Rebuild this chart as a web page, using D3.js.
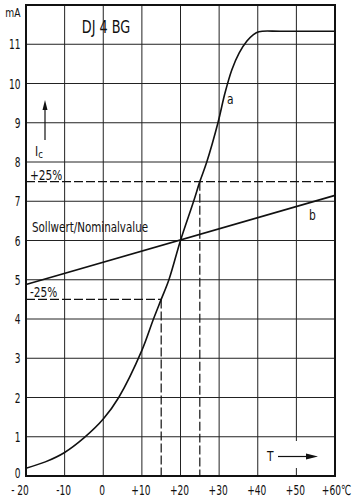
<!DOCTYPE html>
<html>
<head>
<meta charset="utf-8">
<script src="https://cdn.jsdelivr.net/npm/d3@7"></script>
<style>
  html, body { margin: 0; padding: 0; background: #fff; }
  svg text { font-family: 'DejaVu Sans Condensed', 'DejaVu Sans', sans-serif; fill: #111; }
</style>
</head>
<body>
<svg width="354" height="501"></svg>
<script>
// temperature in °C, current in mA
const curveA = [
  [-20, 0.2], [-15, 0.36], [-10, 0.6], [-5, 0.97], [0, 1.45], [4, 2.0],
  [10, 3.2], [13, 4.0], [15, 4.5], [17, 5.0], [20, 6.0], [23.4, 7.0],
  [25, 7.5], [26.8, 8.0], [29.7, 9.0], [31.5, 9.75], [33.3, 10.35], [35.2, 10.78],
  [37.2, 11.08], [38.8, 11.24], [40.3, 11.32], [46, 11.33], [60, 11.33]
]
const lineB = [[-20, 4.88], [60, 7.15]]
const upper = 7.5 // +25%
const lower = 4.5 // -25%
const xTicks = [-20, -10, 0, 10, 20, 30, 40, 50, 60]
const xLabels = ['- 20', '-10', '0', '+10', '+20', '+30', '+40', '+50', '+60℃']
const yTicks = [0, 1, 2, 3, 4, 5, 6, 7, 8, 9, 10, 11]

const svg = d3.select('svg')
const x = d3.scaleLinear().domain([-20, 60]).range([26, 335])
const y = d3.scaleLinear().domain([0, 12]).range([476, 5])

// narrow lettering like the stencil font of the original
const label = (px, py, s, size, anchor, sx) => svg.append('text')
  .attr('transform', `translate(${px},${py}) scale(${sx},1)`)
  .attr('text-anchor', anchor || 'start')
  .attr('font-size', size)
  .text(s)

const grid = svg.append('g').attr('stroke', '#222').attr('stroke-width', 1)
grid.selectAll('.v')
  .data(xTicks.slice(1, -1))
  .enter().append('line')
  .attr('x1', (d) => x(d)).attr('x2', (d) => x(d))
  .attr('y1', y(0)).attr('y2', y(12))
grid.selectAll('.h')
  .data(yTicks.slice(1))
  .enter().append('line')
  .attr('x1', x(-20)).attr('x2', x(60))
  .attr('y1', (d) => y(d)).attr('y2', (d) => y(d))

// gap in the +50 line where the T arrow sits
svg.append('rect')
  .attr('x', x(50) - 3).attr('y', 441)
  .attr('width', 6).attr('height', 27)
  .attr('fill', '#fff')

svg.append('rect')
  .attr('x', x(-20)).attr('y', y(12))
  .attr('width', x(60) - x(-20)).attr('height', y(0) - y(12))
  .attr('fill', 'none').attr('stroke', '#111').attr('stroke-width', 2)

// tolerance lines
const dash = svg.append('g')
  .attr('stroke', '#111').attr('stroke-width', 1.2)
  .attr('stroke-dasharray', '9,3').attr('fill', 'none')
const xAt = (v) => curveA.find((p) => p[1] === v)[0]
dash.append('line')
  .attr('x1', x(-20)).attr('x2', x(60)).attr('y1', y(upper)).attr('y2', y(upper))
dash.append('line')
  .attr('x1', x(xAt(upper))).attr('x2', x(xAt(upper))).attr('y1', y(upper)).attr('y2', y(0))
dash.append('line')
  .attr('x1', x(-20)).attr('x2', x(xAt(lower))).attr('y1', y(lower)).attr('y2', y(lower))
dash.append('line')
  .attr('x1', x(xAt(lower))).attr('x2', x(xAt(lower))).attr('y1', y(lower)).attr('y2', y(0))

svg.append('path')
  .datum(curveA)
  .attr('d', d3.line().x((d) => x(d[0])).y((d) => y(d[1])).curve(d3.curveCatmullRom.alpha(0.5)))
  .attr('fill', 'none').attr('stroke', '#111').attr('stroke-width', 1.6)
svg.append('path')
  .datum(lineB)
  .attr('d', d3.line().x((d) => x(d[0])).y((d) => y(d[1])))
  .attr('fill', 'none').attr('stroke', '#111').attr('stroke-width', 1.6)

// tick labels
yTicks.forEach((d) => label(20.5, d === 0 ? 478 : y(d) + 5, d, 14, 'end', 0.72))
label(20.5, 16.5, 'mA', 12, 'end', 0.85)
xTicks.forEach((d, i) => {
  const shift = i === 0 ? -6 : i === xTicks.length - 1 ? 1.5 : -1
  label(x(d) + shift, 494.5, xLabels[i], 14, 'middle', 0.72)
})

// annotations
label(106, 33, 'DJ 4 BG', 17, 'middle', 0.84)
label(30, 180, '+25%', 14, 'start', 0.84)
label(30, 297, '-25%', 14, 'start', 0.84)
label(32, 232, 'Sollwert/Nominalvalue', 14, 'start', 0.82)
label(227, 104, 'a', 14, 'start', 0.85)
label(309, 220, 'b', 14, 'start', 0.85)

const ic = label(35, 156, 'I', 14, 'start', 0.85)
ic.append('tspan').attr('font-size', 11).attr('dy', 2).text('c')
svg.append('line').attr('x1', 45).attr('x2', 45).attr('y1', 106).attr('y2', 140)
  .attr('stroke', '#111').attr('stroke-width', 1.2)
svg.append('path').attr('d', 'M45,100 L42.5,110 L47.5,110 Z').attr('fill', '#111')

label(267, 461, 'T', 14, 'start', 0.85)
svg.append('line').attr('x1', 278).attr('x2', 310).attr('y1', 456.5).attr('y2', 456.5)
  .attr('stroke', '#111').attr('stroke-width', 1.2)
svg.append('path').attr('d', 'M318,456.5 L306,453.5 L306,459.5 Z').attr('fill', '#111')
</script>
</body>
</html>
